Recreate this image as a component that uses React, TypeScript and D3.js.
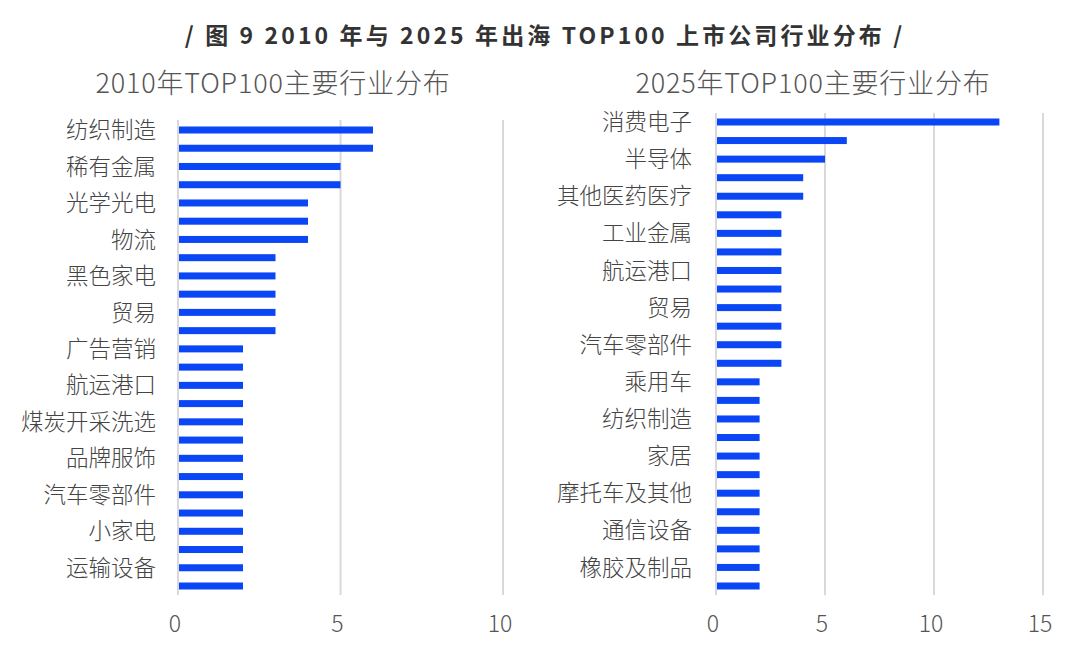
import React from "react";
import * as d3 from "d3";

const title = "/ 图 9 2010 年与 2025 年出海 TOP100 上市公司行业分布 /";
const leftTitle = "2010年TOP100主要行业分布";
const rightTitle = "2025年TOP100主要行业分布";

// visible labels (every other bar is labelled in the source)
const leftLabels = ["纺织制造", "稀有金属", "光学光电", "物流", "黑色家电", "贸易", "广告营销", "航运港口", "煤炭开采洗选", "品牌服饰", "汽车零部件", "小家电", "运输设备"];
const leftValues = [6, 6, 5, 5, 4, 4, 4, 3, 3, 3, 3, 3, 2, 2, 2, 2, 2, 2, 2, 2, 2, 2, 2, 2, 2, 2];
const leftTicks = [0, 5, 10];

const rightLabels = ["消费电子", "半导体", "其他医药医疗", "工业金属", "航运港口", "贸易", "汽车零部件", "乘用车", "纺织制造", "家居", "摩托车及其他", "通信设备", "橡胶及制品"];
const rightValues = [13, 6, 5, 4, 4, 3, 3, 3, 3, 3, 3, 3, 3, 3, 2, 2, 2, 2, 2, 2, 2, 2, 2, 2, 2, 2];
const rightTicks = [0, 5, 10, 15];

const FONT = "'Noto Sans CJK SC', 'Noto Sans', sans-serif";
const BLUE = "#0a46f5";

type PanelProps = {
  labels: string[];
  values: number[];
  ticks: number[];
  x0: number;
  x1: number;
  maxV: number;
  yTop: number;
  yBottom: number;
  gridTop: number;
  subtitle: string;
  subtitleX: number;
  labelGap: number;
};

function Panel({ labels, values, ticks, x0, x1, maxV, yTop, yBottom, gridTop, subtitle, subtitleX, labelGap }: PanelProps) {
  const x = d3.scaleLinear().domain([0, maxV]).range([x0, x1]);
  const idx = values.map((_, i) => i);
  const step = (yBottom - yTop) / (values.length - 1);
  const y = d3.scalePoint<number>().domain(idx).range([yTop, yBottom]);
  const barH = 7;
  return (
    <g>
      <text x={subtitleX} y={93} textAnchor="middle" fontSize={27} fill="#555" fontFamily={FONT} fontWeight={300} letterSpacing={0.8}>
        {subtitle}
      </text>
      {ticks.map((t) => (
        <g key={t}>
          <line x1={x(t)} x2={x(t)} y1={gridTop} y2={yBottom + step / 2} stroke="#d9d9d9" strokeWidth={2} />
          <text x={x(t) - 3} y={632} textAnchor="middle" fontSize={23} fill="#555" fontFamily={FONT} fontWeight={300}>
            {t}
          </text>
        </g>
      ))}
      {values.map((v, i) => (
        <rect key={i} x={x(0) + 1} y={(y(i) as number) - barH / 2} width={x(v) - x(0) - 1} height={barH} fill={BLUE} />
      ))}
      {labels.map((l, k) => (
        <text
          key={l + k}
          x={x0 - labelGap}
          y={(y(k * 2) as number) + 2}
          textAnchor="end"
          dominantBaseline="middle"
          fontSize={22.5}
          fill="#444"
          fontFamily={FONT}
          fontWeight={300}
        >
          {l}
        </text>
      ))}
    </g>
  );
}

export default function App() {
  return (
    <svg width={1080} height={654} style={{ position: "absolute", left: 0, top: 0, background: "#fff" }}>
      <rect width={1080} height={654} fill="#fff" />
      <text x={545} y={44} textAnchor="middle" fontSize={23} fontWeight={700} fill="#333" fontFamily={FONT} letterSpacing={3.1}>
        {title}
      </text>
      <Panel
        labels={leftLabels}
        values={leftValues}
        ticks={leftTicks}
        x0={178}
        x1={503}
        maxV={10}
        yTop={130}
        yBottom={586}
        gridTop={120}
        subtitle={leftTitle}
        subtitleX={273}
        labelGap={22}
      />
      <Panel
        labels={rightLabels}
        values={rightValues}
        ticks={rightTicks}
        x0={716}
        x1={1043}
        maxV={15}
        yTop={122}
        yBottom={586}
        gridTop={113}
        subtitle={rightTitle}
        subtitleX={813}
        labelGap={24}
      />
    </svg>
  );
}
